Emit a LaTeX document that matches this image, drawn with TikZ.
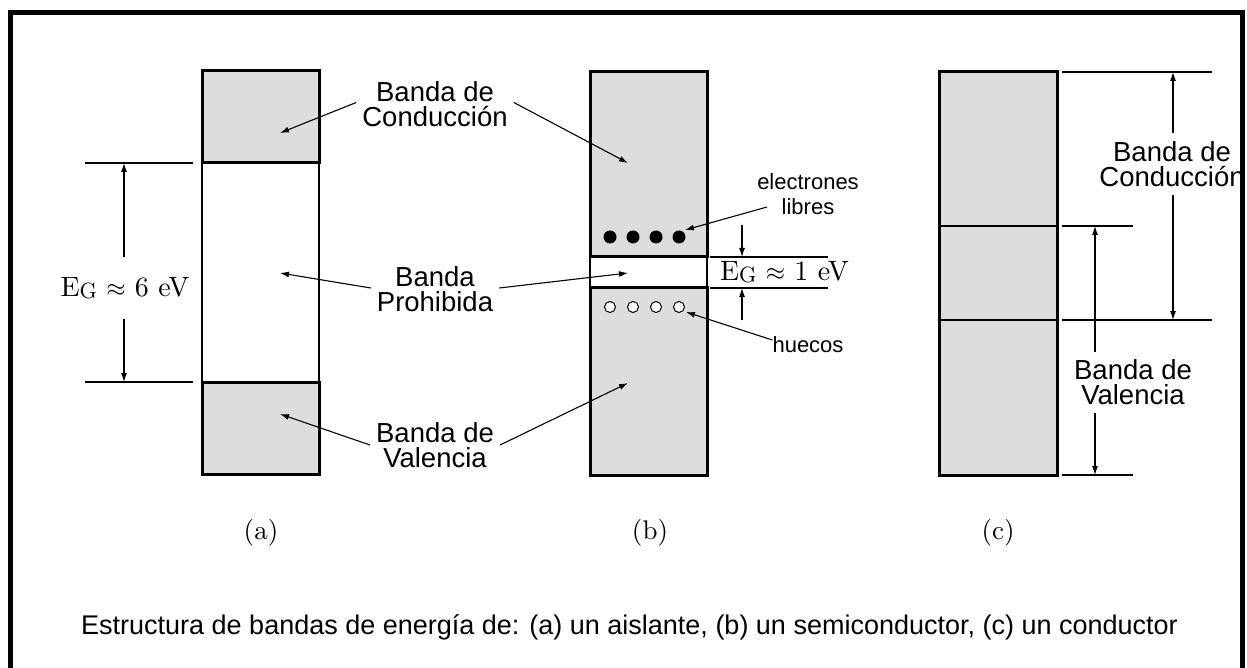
\documentclass[tikz,border=0pt]{standalone}
\usepackage{fontspec}
\newfontfamily\arial{Liberation Sans}
\newfontfamily\cmten{lmroman10-regular}[Extension=.otf]
\usetikzlibrary{arrows.meta}
\definecolor{bandgray}{RGB}{221,221,221}
\newcommand{\EGsym}{E\raisebox{-0.12ex}{\fontsize{22}{22}\selectfont G}}
\begin{document}
\begin{tikzpicture}[x=1pt,y=-1pt,
  band/.style={draw, line width=3pt, fill=bandgray},
  thinl/.style={line width=1.2pt},
  ptr/.style={line width=1.1pt, -{Latex[length=9pt,width=6pt]}},
  lbl/.style={font=\arial\fontsize{27.5}{25}\selectfont, align=center, inner sep=0pt},
  smalllbl/.style={font=\arial\fontsize{22}{25}\selectfont, align=center, inner sep=0pt},
  serif/.style={font=\cmten\fontsize{28}{30}\selectfont, inner sep=0pt},
  tag/.style={font=\cmten\fontsize{27}{28}\selectfont, inner sep=0pt},
  capt/.style={font=\arial\fontsize{27}{28}\selectfont, inner sep=0pt}
]
\useasboundingbox (0,0) rectangle (1247,668);
\clip (0,0) rectangle (1247,668);
\fill[white] (0,0) rectangle (1247,668);
% frame
\draw[line width=5pt] (10,700) -- (10,12.5) -- (1242,12.5) -- (1242,700);

% ---------- (a) aislante ----------
\draw[band] (202,71) rectangle (319,163);
\draw[band] (202,382) rectangle (319,474);
\draw[thinl] (202,163) -- (202,382) (319,163) -- (319,382);
\draw[thinl] (85,163) -- (193,163) (85,382) -- (193,382);
\node[serif, minimum height=62pt] (ega) at (125,288) {\EGsym{} $\approx$ 6 eV};
\coordinate (aT) at (124,163);
\coordinate (aB) at (124,382);
\draw[ptr] (ega.north -| aT) -- (aT);
\draw[ptr] (ega.south -| aB) -- (aB);
\coordinate (aC) at (280,133);
\coordinate (aP) at (280,273);
\coordinate (aV) at (280,414);

% ---------- labels ----------
\node[lbl] (cond) at (435,104.5) {Banda de\\Conducción};
\node[lbl] (proh) at (435,289.5) {Banda\\Prohibida};
\node[lbl] (val) at (435,445) {Banda de\\Valencia};

% ---------- (b) semiconductor ----------
\draw[band] (590,72) rectangle (707,257);
\draw[band] (590,288) rectangle (707,475);
\draw[thinl] (590,257) -- (590,288) (707,257) -- (707,288);
\foreach \i/\x in {1/610,2/633,3/656,4/679}{
  \fill (\x,237) circle[radius=6.5pt];
  \draw[line width=1pt, fill=white] (\x,307) circle[radius=5.5pt];
}
\coordinate (bC) at (628,163);
\coordinate (bP) at (628,273);
\coordinate (bV) at (628,383);
\coordinate (bE) at (685,230);
\coordinate (bH) at (686,312);

\draw[ptr] ([xshift=-6pt,yshift=2pt]cond.west) -- (aC);
\draw[ptr] ([xshift=6pt,yshift=2pt]cond.east) -- (bC);
\draw[ptr] ([xshift=-6pt,yshift=1.5pt]proh.west) -- (aP);
\draw[ptr] ([xshift=6pt,yshift=1.5pt]proh.east) -- (bP);
\draw[ptr] ([xshift=-6pt]val.west) -- (aV);
\draw[ptr] ([xshift=6pt]val.east) -- (bV);

\draw[thinl] (710,257) -- (828,257) (710,288) -- (828,288);
\node[serif] (egb) at (784.5,272) {\EGsym{} $\approx$ 1 eV};
\coordinate (bT0) at (742,225);
\coordinate (bT1) at (742,257);
\coordinate (bB0) at (742,320);
\coordinate (bB1) at (742,288);
\draw[ptr] (bT0) -- (bT1);
\draw[ptr] (bB0) -- (bB1);

\node[smalllbl] (elec) at (808,194.5) {electrones\\libres};
\node[smalllbl] (hue) at (808,345) {huecos};
\draw[ptr] ([xshift=10pt,yshift=-12.5pt]elec.west) -- (bE);
\draw[ptr] ([xshift=0pt,yshift=5pt]hue.west) -- (bH);

% ---------- (c) conductor ----------
\draw[band] (939,72) rectangle (1057,475);
\draw[thinl] (939,226) -- (1057,226) (939,320) -- (1057,320);
\draw[thinl] (1062,72) -- (1212,72) (1062,320) -- (1212,320);
\draw[thinl] (1062,226) -- (1133,226) (1062,475) -- (1133,475);
\node[lbl, minimum height=62pt] (ccond) at (1172,164) {Banda de\\Conducción};
\node[lbl, minimum height=61pt] (cval) at (1133,382.5) {Banda de\\Valencia};
\coordinate (cT) at (1173,72);
\coordinate (cM) at (1173,320);
\coordinate (cU) at (1095,226);
\coordinate (cD) at (1095,475);
\draw[ptr] (ccond.north -| cT) -- (cT);
\draw[ptr] (ccond.south -| cM) -- (cM);
\draw[ptr] (cval.north -| cU) -- (cU);
\draw[ptr] (cval.south -| cD) -- (cD);

% ---------- tags and caption ----------
\node[tag] (ta) at (261,533) {(a)};
\node[tag] (tb) at (650,533) {(b)};
\node[tag] (tc) at (998,533) {(c)};
\node[capt] (cap) at (629.5,627) {Estructura de bandas de energía de: (a) un aislante, (b) un semiconductor, (c) un conductor};
\end{tikzpicture}
\end{document}
